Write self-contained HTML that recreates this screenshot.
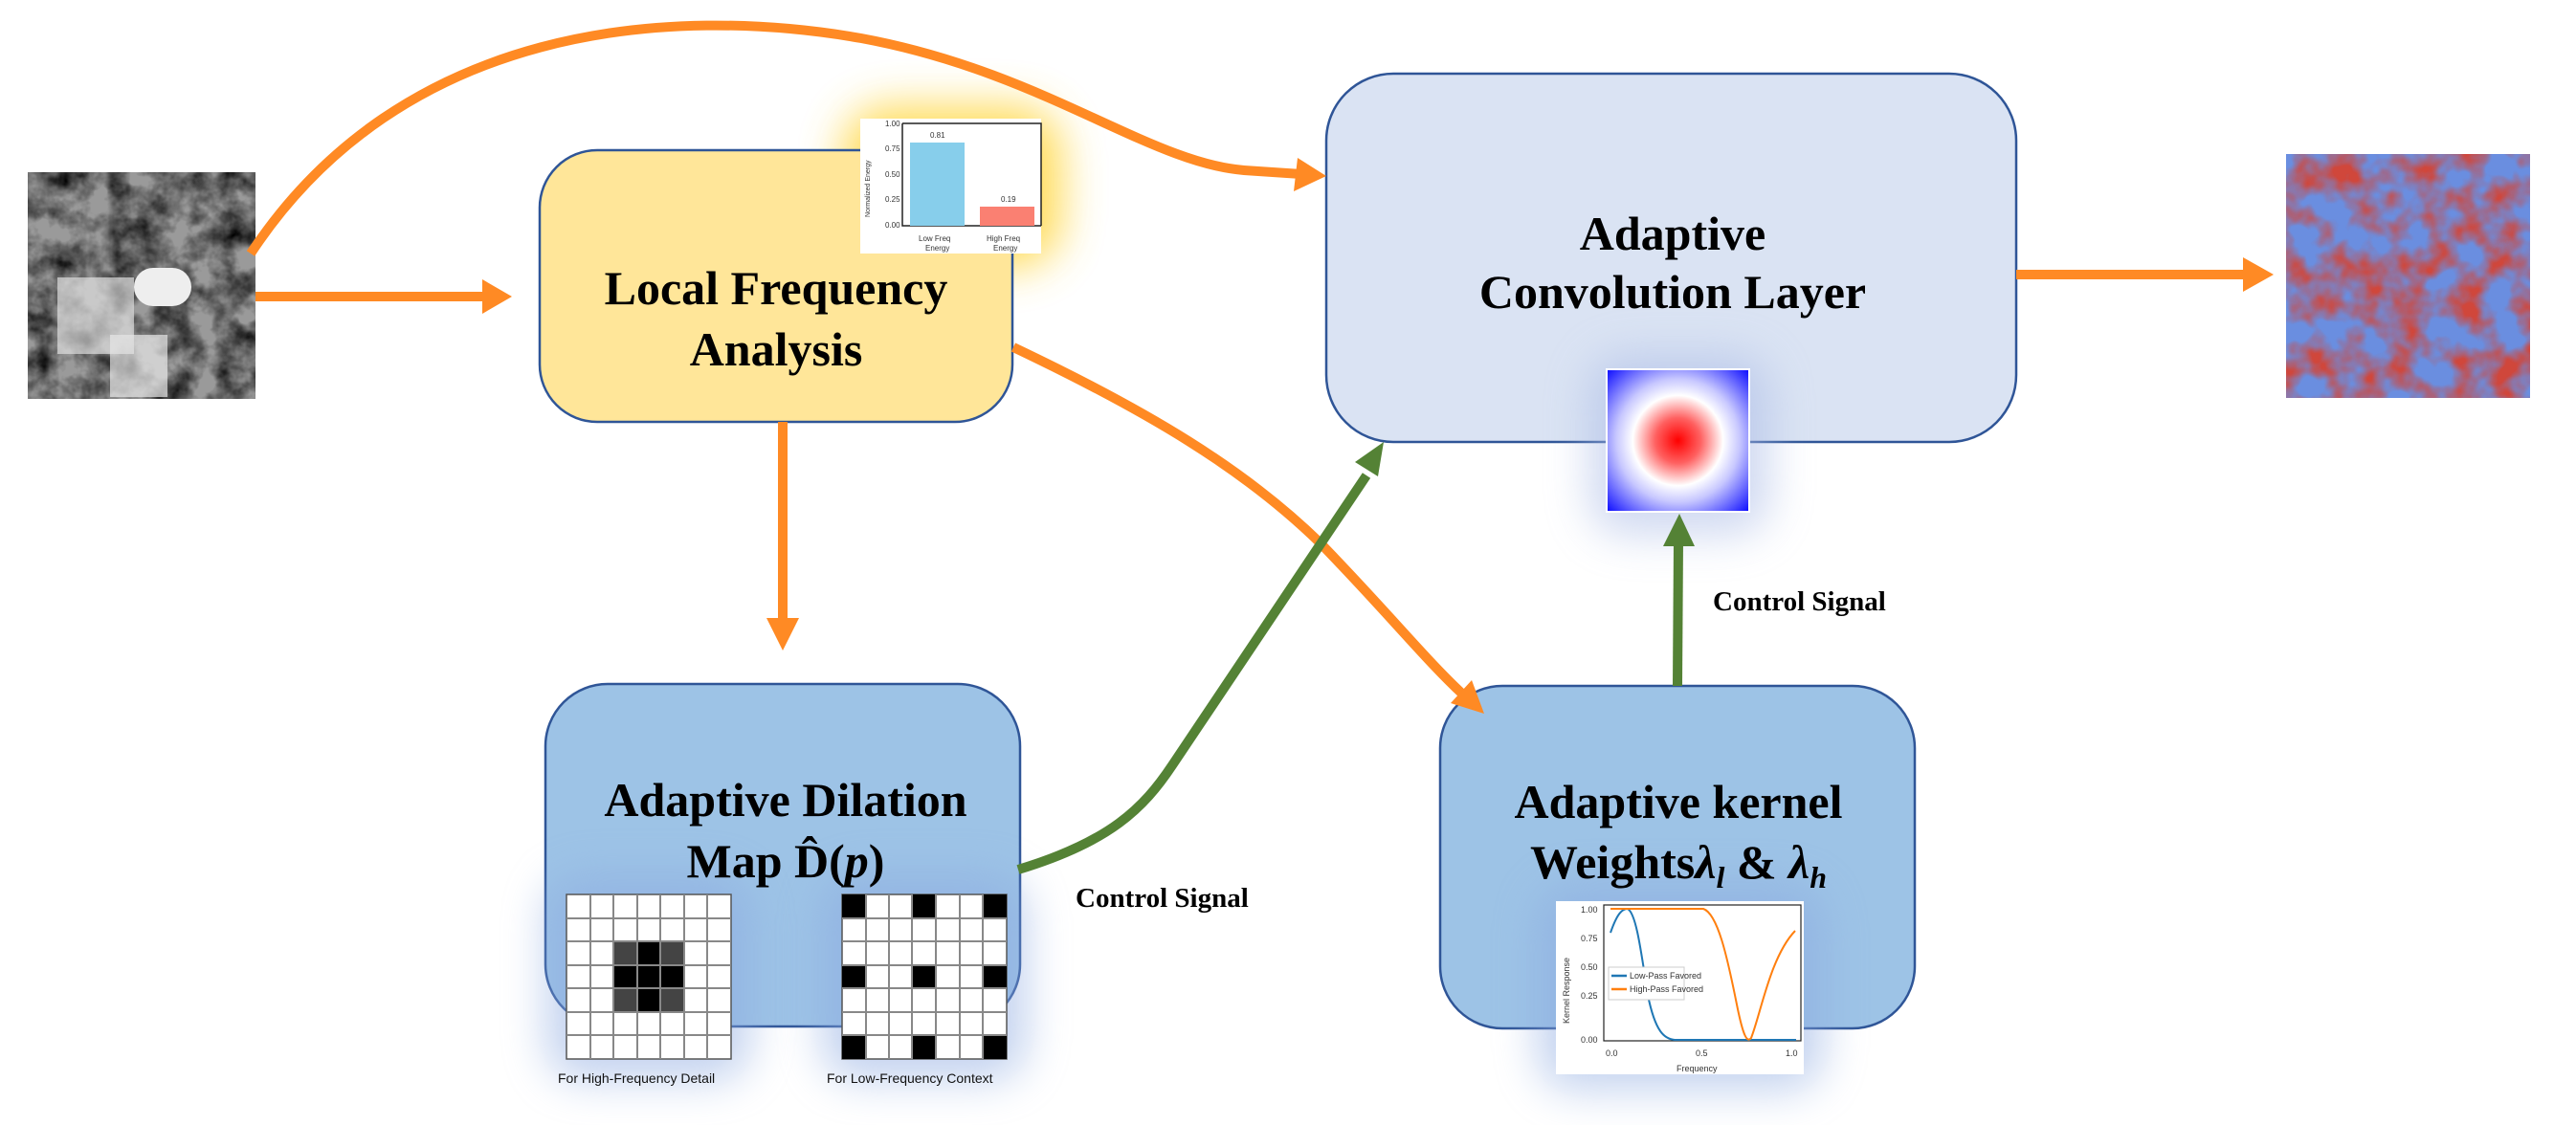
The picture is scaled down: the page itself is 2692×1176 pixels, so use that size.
<!DOCTYPE html>
<html><head><meta charset="utf-8"><style>
html,body{margin:0;padding:0;background:#fff;}
svg{display:block;}
text{font-family:"Liberation Serif",serif;}
.t{font-weight:bold;font-size:50px;fill:#000;text-anchor:middle;}
.s text{font-family:"Liberation Sans",sans-serif;fill:#333;}
</style></head><body>
<svg width="2692" height="1176" viewBox="0 0 2692 1176" xmlns="http://www.w3.org/2000/svg">
<defs>
<filter id="blur" x="-50%" y="-50%" width="200%" height="200%"><feGaussianBlur stdDeviation="22"/></filter>
<filter id="sat" x="0" y="0" width="100%" height="100%">
<feTurbulence type="fractalNoise" baseFrequency="0.035" numOctaves="4" seed="3"/>
<feColorMatrix type="matrix" values="0 0 0 0 0  0 0 0 0 0  0 0 0 0 0  1.2 1.2 0 0 -0.9"/>
</filter>
<filter id="cw" x="0" y="0" width="100%" height="100%">
<feTurbulence type="fractalNoise" baseFrequency="0.03" numOctaves="3" seed="7" result="n"/>
<feColorMatrix in="n" type="matrix" values="0 0 0 0 0  0 0 0 0 0  0 0 0 0 0  2.6 0 0 0 -0.95" result="r"/>
<feFlood flood-color="#d0463a" result="red"/>
<feComposite in="red" in2="r" operator="in"/>
</filter>
<radialGradient id="kg" cx="50%" cy="50%" r="72%">
<stop offset="0" stop-color="#ff0000"/><stop offset="0.22" stop-color="#ff6060"/><stop offset="0.44" stop-color="#ffffff"/><stop offset="0.6" stop-color="#c8c8ff"/><stop offset="1" stop-color="#0000ff"/>
</radialGradient>
</defs>

<rect x="880" y="110" width="230" height="170" rx="50" fill="#ffd84a" opacity="0.9" filter="url(#blur)"/>

<rect x="564" y="157" width="494" height="284" rx="60" fill="#FFE699" stroke="#2F5597" stroke-width="2.5"/>
<rect x="1386" y="77" width="721" height="385" rx="70" fill="#DAE3F3" stroke="#2F5597" stroke-width="2.5"/>
<rect x="570" y="715" width="496" height="358" rx="65" fill="#9DC3E6" stroke="#2F5597" stroke-width="2.5"/>
<rect x="1505" y="717" width="496" height="358" rx="65" fill="#9DC3E6" stroke="#2F5597" stroke-width="2.5"/>

<rect x="1660" y="370" width="190" height="190" rx="40" fill="#aabbe6" opacity="0.55" filter="url(#blur)"/>
<rect x="570" y="915" width="215" height="215" rx="40" fill="#8aa8e0" opacity="0.5" filter="url(#blur)"/>
<rect x="858" y="915" width="215" height="215" rx="40" fill="#8aa8e0" opacity="0.5" filter="url(#blur)"/>
<rect x="1606" y="925" width="300" height="215" rx="40" fill="#8aa8e0" opacity="0.5" filter="url(#blur)"/>

<text class="t" x="811" y="318">Local Frequency</text>
<text class="t" x="811" y="382">Analysis</text>
<text class="t" x="1748" y="261">Adaptive</text>
<text class="t" x="1748" y="322">Convolution Layer</text>
<text class="t" x="821" y="853">Adaptive Dilation</text>
<text class="t" x="821" y="917">Map D̂(<tspan font-style="italic">p</tspan>)</text>
<text class="t" x="1754" y="855">Adaptive kernel</text>
<text class="t" x="1754" y="918">Weights<tspan font-style="italic">λ</tspan><tspan font-style="italic" font-size="32" dy="10">l</tspan><tspan dy="-10"> &amp; </tspan><tspan font-style="italic">λ</tspan><tspan font-style="italic" font-size="32" dy="10">h</tspan></text>
<text x="1124" y="948" font-weight="bold" font-size="29">Control Signal</text>
<text x="1790" y="638" font-weight="bold" font-size="29">Control Signal</text>

<rect x="29" y="180" width="238" height="237" fill="#9a9a9a"/>
<rect x="29" y="180" width="238" height="237" fill="#222" filter="url(#sat)"/>
<rect x="140" y="280" width="60" height="40" rx="20" fill="#eee"/>
<rect x="60" y="290" width="80" height="80" fill="#ddd" opacity="0.7"/>
<rect x="115" y="350" width="60" height="65" fill="#e6e6e6" opacity="0.7"/>

<rect x="2389" y="161" width="255" height="255" fill="#6a8ee0"/>
<rect x="2389" y="161" width="255" height="255" filter="url(#cw)"/>

<rect x="1679" y="386" width="149" height="149" fill="url(#kg)" stroke="#fff" stroke-width="2"/>

<rect x="899" y="124" width="189" height="141" fill="#fff"/>
<path d="M943,129 L943,236 L1088,236 M943,129 L1088,129 L1088,236" fill="none" stroke="#222" stroke-width="1.5"/>
<rect x="951" y="149" width="57" height="87" fill="#87CEEB"/>
<rect x="1024" y="216" width="57" height="20" fill="#FA8072"/>
<g class="s" font-size="8"><text x="925" y="132">1.00</text><text x="925" y="158">0.75</text><text x="925" y="185">0.50</text><text x="925" y="211">0.25</text><text x="925" y="238">0.00</text>
<text x="972" y="144">0.81</text><text x="1046" y="211">0.19</text>
<text x="960" y="252">Low Freq</text><text x="967" y="262">Energy</text><text x="1031" y="252">High Freq</text><text x="1038" y="262">Energy</text>
<text transform="translate(909,227) rotate(-90)" font-size="7">Normalized Energy</text></g>

<g stroke="#555" stroke-width="1.5">
<rect x="592" y="935" width="172" height="172" fill="#fff"/>
<rect x="880" y="935" width="172" height="172" fill="#fff"/>
</g>
<g fill="#444"><rect x="641" y="984" width="25" height="25"/><rect x="690" y="984" width="25" height="25"/><rect x="641" y="1033" width="25" height="25"/><rect x="690" y="1033" width="25" height="25"/></g>
<g fill="#000"><rect x="666" y="984" width="24" height="74"/><rect x="641" y="1009" width="74" height="24"/>
<rect x="880" y="935" width="25" height="25"/><rect x="953" y="935" width="25" height="25"/><rect x="1027" y="935" width="25" height="25"/>
<rect x="880" y="1009" width="25" height="25"/><rect x="953" y="1009" width="25" height="25"/><rect x="1027" y="1009" width="25" height="25"/>
<rect x="880" y="1082" width="25" height="25"/><rect x="953" y="1082" width="25" height="25"/><rect x="1027" y="1082" width="25" height="25"/></g>
<path d="M617,935V1107M641,935V1107M666,935V1107M690,935V1107M715,935V1107M739,935V1107M592,960H764M592,984H764M592,1009H764M592,1033H764M592,1058H764M592,1082H764
M905,935V1107M929,935V1107M953,935V1107M978,935V1107M1003,935V1107M1027,935V1107M880,960H1052M880,984H1052M880,1009H1052M880,1033H1052M880,1058H1052M880,1082H1052" stroke="#888" stroke-width="2" fill="none"/>
<g class="s" font-size="14"><text x="583" y="1132" style="fill:#111">For High-Frequency Detail</text><text x="864" y="1132" style="fill:#111">For Low-Frequency Context</text></g>

<rect x="1626" y="942" width="259" height="181" fill="#fff"/>
<rect x="1676" y="946" width="206" height="142" fill="none" stroke="#222" stroke-width="1.2"/>
<path d="M1683,975 C1690,955 1695,950 1701,950 C1710,955 1715,995 1722,1040 C1730,1080 1740,1086 1750,1087 L1877,1087" fill="none" stroke="#1f77b4" stroke-width="2"/>
<path d="M1683,950 L1780,950 C1795,955 1805,1000 1815,1050 C1822,1085 1826,1090 1830,1085 C1840,1060 1850,1000 1876,973" fill="none" stroke="#ff7f0e" stroke-width="2"/>
<rect x="1681" y="1011" width="79" height="34" fill="#fff" stroke="#ccc"/>
<path d="M1684,1020h16" stroke="#1f77b4" stroke-width="2.5"/><path d="M1684,1034h16" stroke="#ff7f0e" stroke-width="2.5"/>
<g class="s" font-size="9"><text x="1703" y="1023">Low-Pass Favored</text><text x="1703" y="1037">High-Pass Favored</text>
<text x="1652" y="954">1.00</text><text x="1652" y="984">0.75</text><text x="1652" y="1014">0.50</text><text x="1652" y="1044">0.25</text><text x="1652" y="1090">0.00</text>
<text x="1678" y="1104">0.0</text><text x="1772" y="1104">0.5</text><text x="1866" y="1104">1.0</text><text x="1752" y="1120">Frequency</text>
<text transform="translate(1640,1070) rotate(-90)" font-size="9">Kernel Response</text></g>

<g fill="none" stroke="#FF8A24" stroke-width="10">
<path d="M267,310 L510,310"/>
<path d="M262,265 C420,25 700,5 900,40 C1090,75 1200,170 1300,178 L1360,182"/>
<path d="M818,441 L818,650"/>
<path d="M1059,363 C1200,430 1300,490 1379,567 C1450,640 1490,690 1530,727"/>
<path d="M2107,287 L2350,287"/>
</g>
<g fill="#FF8A24">
<polygon points="535,310 504,292 504,328"/>
<polygon points="1386,184 1356,165 1352,200"/>
<polygon points="818,680 801,646 835,646"/>
<polygon points="1551,746 1516,735 1538,711"/>
<polygon points="2376,287 2344,269 2344,305"/>
</g>

<g fill="none" stroke="#548235" stroke-width="10">
<path d="M1064,909 C1160,880 1195,845 1225,800 L1428,497"/>
<path d="M1753,717 L1754,566"/>
</g>
<g fill="#548235">
<polygon points="1446,462 1416,483 1440,498"/>
<polygon points="1755,537 1738,571 1771,571"/>
</g>
</svg>
</body></html>
